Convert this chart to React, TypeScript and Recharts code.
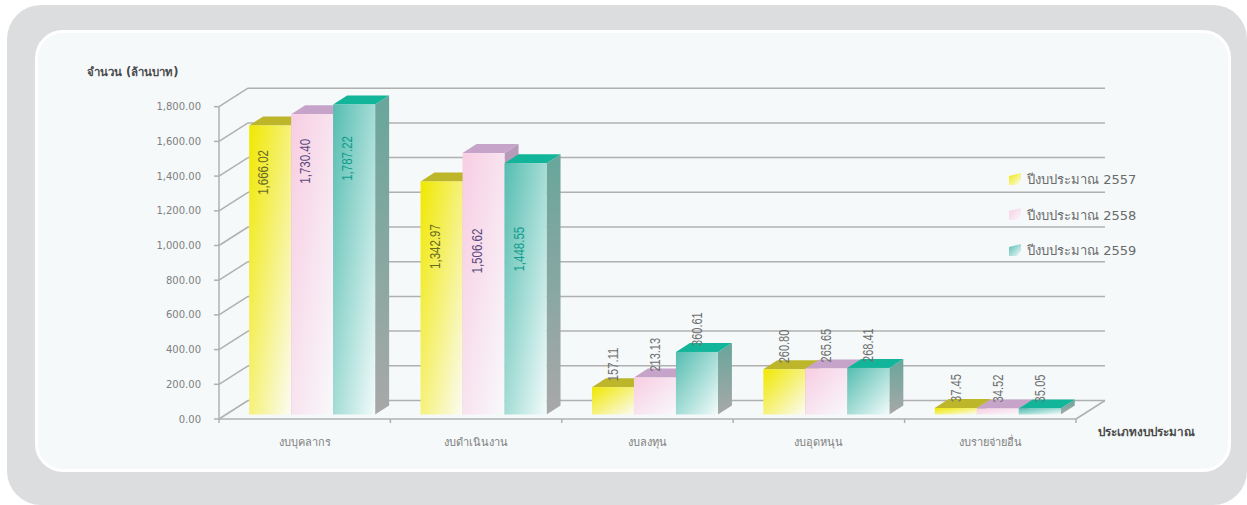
import React from 'react';
import { BarChart, Bar, XAxis, YAxis, CartesianGrid, Legend, LabelList } from 'recharts';

const categories = ['งบบุคลากร', 'งบดำเนินงาน', 'งบลงทุน', 'งบอุดหนุน', 'งบรายจ่ายอื่น'];
const budget2557 = [1666.02, 1342.97, 157.11, 260.8, 37.45];
const budget2558 = [1730.4, 1506.62, 213.13, 265.65, 34.52];
const budget2559 = [1787.22, 1448.55, 360.61, 268.41, 35.05];
const valueTicks = [0, 200, 400, 600, 800, 1000, 1200, 1400, 1600, 1800];

const data = categories.map((name, i) => ({
  name,
  y2557: budget2557[i],
  y2558: budget2558[i],
  y2559: budget2559[i],
}));

// depth of the back wall and of each bar
const WALL_DX = 29;
const WALL_DY = -18.5;
const BAR_DX = 14;
const BAR_DY = -9;
const BAR_SHIFT_X = 7;
const BAR_SHIFT_Y = -4.5;
const BAND = 171.4;
const AXIS_COLOR = '#b0b0b0';
const FONT = '"DejaVu Sans", "Noto Sans", sans-serif';

const SERIES = [
  { key: 'y2557', label: 'ปีงบประมาณ 2557', id: 'a', from: '#f0e800', to: '#fbfbf4', top: '#bdb52a', side: '#b3ad40', text: '#6b6b22', drop: [47, 65] },
  { key: 'y2558', label: 'ปีงบประมาณ 2558', id: 'b', from: '#f8cde3', to: '#f8f9fb', top: '#c6a3c9', side: '#b79ab8', text: '#5d4a80', drop: [47, 98] },
  { key: 'y2559', label: 'ปีงบประมาณ 2559', id: 'c', from: '#55bdb0', to: '#f2fbfb', top: '#12b599', side: '#68a69b', text: '#0e9c8b', drop: [54, 86] },
];

function Box3D(props: any) {
  const { x, y, width, height, s } = props;
  const left = x + BAR_SHIFT_X;
  const right = left + width;
  const top = y + BAR_SHIFT_Y;
  const bottom = top + height;
  return (
    <g>
      <polygon
        points={`${right},${top} ${right + BAR_DX},${top + BAR_DY} ${right + BAR_DX},${bottom + BAR_DY} ${right},${bottom}`}
        fill={`url(#side-${s.id})`}
      />
      <polygon
        points={`${left},${top} ${left + BAR_DX},${top + BAR_DY} ${right + BAR_DX},${top + BAR_DY} ${right},${top}`}
        fill={s.top}
      />
      <rect x={left} y={top} width={width} height={height} fill={`url(#front-${s.id})`} />
    </g>
  );
}

// tall bars carry the value inside, short ones stand it on the top face
function BarValue(props: any) {
  const { x, y, width, value, index, s } = props;
  const text = Number(value).toLocaleString('en-US', { minimumFractionDigits: 2, maximumFractionDigits: 2 });
  const top = y + BAR_SHIFT_Y;
  const inside = value > 1000;
  const cx = x + BAR_SHIFT_X + width / 2 + (inside ? -7 : 0);
  const cy = inside ? top + s.drop[index] : top - 6;
  return (
    <text
      x={cx}
      y={cy}
      transform={`rotate(-90 ${cx} ${cy})`}
      textAnchor={inside ? 'middle' : 'start'}
      dominantBaseline="central"
      fontFamily='"Liberation Sans", sans-serif'
      fontSize={14.5}
      textLength={text.length * 5.6}
      lengthAdjust="spacingAndGlyphs"
      fill={inside ? s.text : '#6e6e6e'}
    >
      {text}
    </text>
  );
}

// the back wall line plus the slanted piece running out to the axis
function WallLine(props: any) {
  const { x1, x2, y1, index } = props;
  return (
    <g key={`wall-${index}`} stroke={AXIS_COLOR} strokeWidth={1.5} fill="none">
      <line x1={x1} y1={y1} x2={x1 + WALL_DX} y2={y1 + WALL_DY} />
      <line x1={x1 + WALL_DX} y1={y1 + WALL_DY} x2={x2 + WALL_DX} y2={y1 + WALL_DY} />
      {y1 > 400 && <line x1={x2} y1={y1} x2={x2 + WALL_DX} y2={y1 + WALL_DY} />}
    </g>
  );
}

function CategoryTick(props: any) {
  const { x, y, payload, index } = props;
  const right = x + BAND / 2;
  const left = x - BAND / 2;
  return (
    <g>
      {index === 0 && <line x1={left} y1={419} x2={left} y2={423} stroke={AXIS_COLOR} strokeWidth={1.5} />}
      <line x1={right} y1={419} x2={right} y2={423} stroke={AXIS_COLOR} strokeWidth={1.5} />
      <text x={x} y={y + 19} textAnchor="middle" fontFamily={FONT} fontSize={11} fill="#808080">
        {payload.value}
      </text>
    </g>
  );
}

function LegendList() {
  return (
    <div>
      {SERIES.map((s) => (
        <div key={s.key} style={{ display: 'flex', alignItems: 'center', height: 35.5 }}>
          <svg width={18} height={14}>
            <polygon points="0,3 12,0 12,7 8,12 0,12" fill={`url(#front-${s.id})`} />
          </svg>
          <span style={{ fontFamily: FONT, fontSize: 13, color: '#6a6a6a', whiteSpace: 'nowrap' }}>{s.label}</span>
        </div>
      ))}
    </div>
  );
}

export default function App() {
  return (
    <div style={{ position: 'absolute', left: 0, top: 0, width: 1247, height: 505, background: '#fff', overflow: 'hidden' }}>
      <div style={{ position: 'absolute', left: 7, top: 5, width: 1240, height: 500, borderRadius: 34, background: '#dcddde' }} />
      <div
        style={{
          position: 'absolute',
          left: 35,
          top: 30,
          width: 1196,
          height: 442,
          boxSizing: 'border-box',
          borderRadius: 28,
          border: '3px solid #fff',
          background: '#f5f9fa',
        }}
      />
      <BarChart
        width={1247}
        height={505}
        data={data}
        barGap={0}
        barCategoryGap="13.5%"
        margin={{ top: 106.7, right: 171, bottom: 56, left: 0 }}
        style={{ position: 'absolute', left: 0, top: 0 }}
      >
        <defs>
          {SERIES.map((s) => (
            <React.Fragment key={s.id}>
              <linearGradient id={`front-${s.id}`} x1="0" y1="0" x2="1" y2="1">
                <stop offset="0%" stopColor={s.from} />
                <stop offset="100%" stopColor={s.to} />
              </linearGradient>
              <linearGradient id={`side-${s.id}`} x1="0" y1="0" x2="0" y2="1">
                <stop offset="0%" stopColor={s.side} />
                <stop offset="100%" stopColor="#a8a8a8" />
              </linearGradient>
            </React.Fragment>
          ))}
        </defs>
        <CartesianGrid vertical={false} horizontal={WallLine} />
        <XAxis
          dataKey="name"
          height={30}
          axisLine={{ stroke: AXIS_COLOR, strokeWidth: 1.5 }}
          tickLine={false}
          interval={0}
          tick={<CategoryTick />}
        />
        <YAxis
          width={219}
          domain={[0, 1800]}
          ticks={valueTicks}
          interval={0}
          axisLine={{ stroke: AXIS_COLOR, strokeWidth: 1.5 }}
          tickLine={{ stroke: AXIS_COLOR, strokeWidth: 1.5 }}
          tickSize={5}
          tickMargin={13}
          tickFormatter={(v: number) => v.toLocaleString('en-US', { minimumFractionDigits: 2 })}
          tick={{ fontFamily: FONT, fontSize: 10, fill: '#808080' }}
        />
        {SERIES.map((s) => (
          <Bar
            key={s.key}
            dataKey={s.key}
            name={s.label}
            fill={s.from}
            isAnimationActive={false}
            shape={(p: any) => <Box3D {...p} s={s} />}
          >
            <LabelList dataKey={s.key} content={(p: any) => <BarValue {...p} s={s} />} />
          </Bar>
        ))}
        <Legend
          layout="vertical"
          align="center"
          verticalAlign="middle"
          content={<LegendList />}
          wrapperStyle={{ position: 'absolute', left: 1009, top: 162, width: 170, bottom: 'auto' }}
        />
        <text x={87} y={76} fontFamily={FONT} fontSize={11.4} fontWeight="bold" fill="#4a4a4a">
          จำนวน (ล้านบาท)
        </text>
        <text x={1098} y={436} fontFamily={FONT} fontSize={11.7} fontWeight="bold" fill="#4a4a4a">
          ประเภทงบประมาณ
        </text>
      </BarChart>
    </div>
  );
}
